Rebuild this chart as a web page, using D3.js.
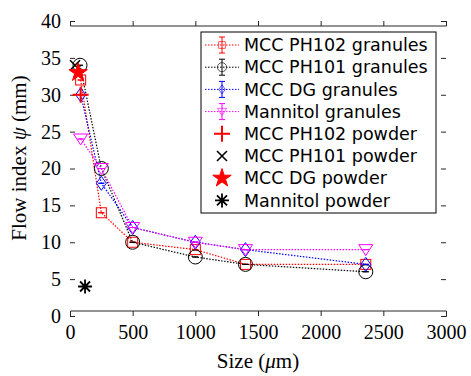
<!DOCTYPE html>
<html>
<head>
<meta charset="utf-8">
<script src="https://cdn.jsdelivr.net/npm/d3@7"></script>
<style>
  body { margin: 0; background: #fff; }
  svg { display: block; }
</style>
</head>
<body>
<svg id="chart" width="471" height="376"></svg>
<script>
// granule series (size in um, flow index in mm)
const ph102Size = [85, 250, 500, 1000, 1400, 2360];
const ph102Flow = [32, 14, 10, 9, 7, 7];
const ph101Size = [80, 250, 500, 1000, 1400, 2360];
const ph101Flow = [34, 20, 10, 8, 7, 6];
const dgSize = [85, 250, 500, 1000, 1400, 2360];
const dgFlow = [30, 18, 12, 10, 9, 7];
const mannSize = [85, 250, 500, 1000, 1400, 2360];
const mannFlow = [24, 20, 12, 10, 9, 9];

// powders, one point each
const powderNames = ['MCC PH102 powder', 'MCC PH101 powder', 'MCC DG powder', 'Mannitol powder'];
const powderSize = [85, 40, 65, 120];
const powderFlow = [30, 34, 33, 4];

const xTicks = [0, 500, 1000, 1500, 2000, 2500, 3000];
const yTicks = [0, 5, 10, 15, 20, 25, 30, 35, 40];

const margin = {left: 70, right: 25, top: 21, bottom: 60};
const W = 471, H = 376;

const svg = d3.select('#chart');

const x = d3.scaleLinear().domain([0, 3000]).range([margin.left, W - margin.right]);
const y = d3.scaleLinear().domain([0, 40]).range([H - margin.bottom, margin.top]);

const granules = [
    {name: 'MCC PH102 granules', color: '#ff0000', marker: 'square', xs: ph102Size, ys: ph102Flow},
    {name: 'MCC PH101 granules', color: '#000000', marker: 'circle', xs: ph101Size, ys: ph101Flow},
    {name: 'MCC DG granules', color: '#0000ff', marker: 'diamond', xs: dgSize, ys: dgFlow},
    {name: 'Mannitol granules', color: '#ff00ff', marker: 'triangle', xs: mannSize, ys: mannFlow}
];
const powders = [
    {color: '#ff0000', marker: 'plus'},
    {color: '#000000', marker: 'cross'},
    {color: '#ff0000', marker: 'star'},
    {color: '#000000', marker: 'asterisk'}
];

// axes box
const xAxisB = d3.axisBottom(x).tickValues(xTicks).tickSize(-5).tickPadding(9).tickFormat(d3.format('d'));
const xAxisT = d3.axisTop(x).tickValues(xTicks).tickSize(-5).tickFormat('');
const yAxisL = d3.axisLeft(y).tickValues(yTicks).tickSize(-5).tickPadding(9);
const yAxisR = d3.axisRight(y).tickValues(yTicks).tickSize(-5).tickFormat('');

function styleAxis(g){
    g.selectAll('path').attr('stroke', '#262626').attr('stroke-width', 1);
    g.selectAll('line').attr('stroke', '#262626');
    g.selectAll('text').attr('fill', '#000').style('font-family', '"Liberation Serif", "Times New Roman", serif').style('font-size', '20px');
}

svg.append('g').attr('transform', 'translate(0,' + y(0) + ')').call(xAxisB).call(styleAxis);
svg.append('g').attr('transform', 'translate(0,' + y(40) + ')').call(xAxisT).call(styleAxis);
svg.append('g').attr('transform', 'translate(' + x(0) + ',0)').call(yAxisL).call(styleAxis);
svg.append('g').attr('transform', 'translate(' + x(3000) + ',0)').call(yAxisR).call(styleAxis);
svg.selectAll('.domain').attr('d', function(){ return d3.select(this).attr('d').replace(/V[-\d.]+H/,'H'); });

// axis labels
const xl = svg.append('text')
    .attr('x', (x(0) + x(3000)) / 2).attr('y', 368)
    .attr('text-anchor', 'middle')
    .style('font-family', '"Liberation Serif", serif').style('font-size', '21px');
xl.append('tspan').text('Size (');
xl.append('tspan').style('font-style', 'italic').text('\u03bc');
xl.append('tspan').text('m)');

const yl = svg.append('text')
    .attr('transform', 'translate(26,' + 158 + ') rotate(-90)')
    .attr('text-anchor', 'middle')
    .style('font-family', '"Liberation Serif", serif').style('font-size', '21px');
yl.append('tspan').text('Flow index ');
yl.append('tspan').style('font-style', 'italic').text('\u03c8');
yl.append('tspan').text(' (mm)');

// marker drawing
function drawMarker(g, type, color){
    if(type == 'square'){
        g.append('rect').attr('x', -5).attr('y', -5).attr('width', 10).attr('height', 10)
            .attr('fill', 'none').attr('stroke', color).attr('stroke-width', 1);
    } else if(type == 'circle'){
        g.append('circle').attr('r', 7).attr('fill', 'none').attr('stroke', color).attr('stroke-width', 1);
    } else if(type == 'diamond'){
        g.append('path').attr('d', 'M0,-7L5,0L0,7L-5,0Z').attr('fill', 'none').attr('stroke', color);
    } else if(type == 'triangle'){
        g.append('path').attr('d', 'M-7,-5L7,-5L0,6Z').attr('fill', 'none').attr('stroke', color);
    } else if(type == 'plus'){
        g.append('path').attr('d', 'M-8,0H8M0,-8V8').attr('stroke', color).attr('stroke-width', 2);
    } else if(type == 'cross'){
        g.append('path').attr('d', 'M-5,-5L5,5M-5,5L5,-5').attr('stroke', color).attr('stroke-width', 1.6);
    } else if(type == 'star'){
        g.append('path').attr('d', d3.symbol(d3.symbolStar, 105)()).attr('fill', color).attr('stroke', color);
    } else if(type == 'asterisk'){
        g.append('path').attr('d', 'M-7,0H7M0,-7V7M-5,-5L5,5M-5,5L5,-5').attr('stroke', color).attr('stroke-width', 1.8);
    }
}

function errorBar(g, color, half){
    g.append('path')
        .attr('d', 'M0,' + (-half) + 'V' + half + 'M-3,' + (-half) + 'H3M-3,' + half + 'H3')
        .attr('stroke', color).attr('stroke-width', 1).attr('fill', 'none');
}

// granule lines, dotted
const line = d3.line().x(d => x(d[0])).y(d => y(d[1]));
granules.forEach(function(s){
    const pts = s.xs.map((v, i) => [v, s.ys[i]]);
    svg.append('path').datum(pts).attr('d', line)
        .attr('fill', 'none').attr('stroke', s.color).attr('stroke-width', 1.2)
        .attr('stroke-dasharray', '1.5,1.5');
});
granules.forEach(function(s){
    s.xs.forEach(function(v, i){
        const g = svg.append('g').attr('transform', 'translate(' + x(v) + ',' + y(s.ys[i]) + ')');
        errorBar(g, s.color, 0);
        drawMarker(g, s.marker, s.color);
    });
});

// powders
powders.forEach(function(p, i){
    const g = svg.append('g').attr('transform', 'translate(' + x(powderSize[i]) + ',' + y(powderFlow[i]) + ')');
    drawMarker(g, p.marker, p.color);
});

// legend
const lg = svg.append('g').attr('transform', 'translate(201,32)');
lg.append('rect').attr('width', 235).attr('height', 181).attr('fill', '#fff').attr('stroke', '#000').attr('stroke-width', 1);
const rowH = 22.2;
const allEntries = granules.map(s => ({name: s.name, color: s.color, marker: s.marker, isLine: true}))
    .concat(powders.map((p, i) => ({name: powderNames[i], color: p.color, marker: p.marker, isLine: false})));
allEntries.forEach(function(e, i){
    const cy = 13 + i * rowH;
    const row = lg.append('g').attr('transform', 'translate(0,' + cy + ')');
    if(e.isLine){
        row.append('line').attr('x1', 4).attr('x2', 38).attr('y1', 0).attr('y2', 0)
            .attr('stroke', e.color).attr('stroke-width', 1).attr('stroke-dasharray', '1.5,1.5');
        const m = row.append('g').attr('transform', 'translate(21,0) scale(0.65)');
        errorBar(row.append('g').attr('transform', 'translate(21,0)'), e.color, 8);
        drawMarker(m, e.marker, e.color);
    } else {
        const m = row.append('g').attr('transform', 'translate(21,0)');
        drawMarker(m, e.marker, e.color);
    }
    row.append('text').attr('x', 43).attr('y', 0).attr('dy', '0.35em')
        .style('font-family', '"DejaVu Sans", sans-serif').style('font-size', '17.5px')
        .text(e.name);
});
</script>
</body>
</html>
